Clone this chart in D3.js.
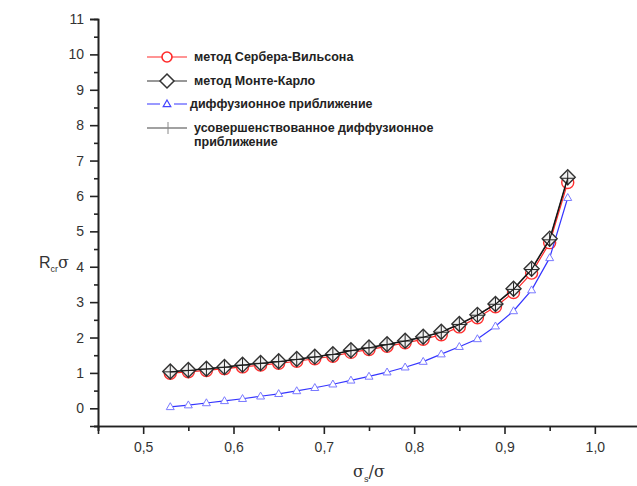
<!DOCTYPE html>
<html lang="ru">
<head>
<meta charset="UTF-8">
<script src="https://d3js.org/d3.v7.min.js"></script>
<style>
  body { margin: 0; background: #fff; }
  svg { display: block; font-family: "Liberation Sans", Arial, sans-serif; }
</style>
</head>
<body>
<div id="chart"></div>
<script>
const W = 637, H = 486;

// x values: sigma_s / sigma
const xs = [0.53, 0.55, 0.57, 0.59, 0.61, 0.63, 0.65, 0.67, 0.69, 0.71, 0.73, 0.75,
            0.77, 0.79, 0.81, 0.83, 0.85, 0.87, 0.89, 0.91, 0.93, 0.95, 0.97];

const serberWilson = [0.99, 1.03, 1.07, 1.12, 1.17, 1.22, 1.27, 1.33, 1.40, 1.47, 1.58, 1.66,
                      1.75, 1.85, 1.95, 2.08, 2.30, 2.56, 2.87, 3.27, 3.82, 4.68, 6.38];
const monteCarlo = [1.04, 1.08, 1.12, 1.17, 1.23, 1.28, 1.33, 1.39, 1.46, 1.53, 1.64, 1.72,
                    1.81, 1.91, 2.02, 2.16, 2.38, 2.64, 2.95, 3.38, 3.94, 4.79, 6.53];
const diffusion = [0.04, 0.09, 0.15, 0.21, 0.27, 0.34, 0.41, 0.49, 0.58, 0.68, 0.79, 0.90,
                   1.02, 1.16, 1.32, 1.53, 1.74, 1.96, 2.32, 2.75, 3.34, 4.25, 5.95];
const improved = [1.03, 1.07, 1.11, 1.16, 1.22, 1.27, 1.32, 1.38, 1.45, 1.52, 1.63, 1.71,
                  1.80, 1.90, 2.01, 2.15, 2.37, 2.63, 2.94, 3.36, 3.92, 4.76, 6.50];

const xMajor = [0.5, 0.6, 0.7, 0.8, 0.9, 1.0];
const xMinor = [0.45, 0.55, 0.65, 0.75, 0.85, 0.95];
const yMajor = [0, 1, 2, 3, 4, 5, 6, 7, 8, 9, 10, 11];
const yMinor = [-0.5, 0.5, 1.5, 2.5, 3.5, 4.5, 5.5, 6.5, 7.5, 8.5, 9.5, 10.5];

const legendLabels = [
  "метод Сербера-Вильсона",
  "метод Монте-Карло",
  "диффузионное приближение",
  ["усовершенствованное диффузионное", "приближение"]
];

const locale = d3.formatLocale({decimal: ",", thousands: " ", grouping: [3], currency: ["", ""]});
const fmt1 = locale.format(".1f");

const x = d3.scaleLinear().domain([0.45, 1.05]).range([98, 640]);
const y = d3.scaleLinear().domain([-0.5, 11]).range([426, 19]);

const svg = d3.select("#chart").append("svg")
  .attr("width", W).attr("height", H);

// axes
function styleAxis(g) {
  g.select(".domain").attr("stroke", "#222").attr("stroke-width", 1.6);
  g.selectAll(".tick line").attr("stroke", "#222").attr("stroke-width", 1.6);
  g.selectAll(".tick text").attr("fill", "#333").style("font-size", "14px");
}

svg.append("g")
  .attr("transform", `translate(0,${y(-0.5)})`)
  .call(d3.axisBottom(x).tickValues(xMinor).tickSize(5).tickFormat(""))
  .call(styleAxis);
svg.append("g")
  .attr("transform", `translate(0,${y(-0.5)})`)
  .call(d3.axisBottom(x).tickValues(xMajor).tickSize(8).tickPadding(8).tickFormat(fmt1))
  .call(styleAxis);

svg.append("g")
  .attr("transform", `translate(${x(0.45)},0)`)
  .call(d3.axisLeft(y).tickValues(yMinor).tickSize(4).tickFormat(""))
  .call(styleAxis);
svg.append("g")
  .attr("transform", `translate(${x(0.45)},0)`)
  .call(d3.axisLeft(y).tickValues(yMajor).tickSize(8).tickPadding(6).tickFormat(d3.format("d")))
  .call(styleAxis);

// axis titles
const xt = svg.append("text").attr("x", 353).attr("y", 477)
  .attr("fill", "#333").style("font-size", "16px").style("font-family", "'DejaVu Serif', serif");
xt.append("tspan").text("σ");
xt.append("tspan").attr("dy", 5).style("font-size", "9px").text("s");
xt.append("tspan").attr("dy", -5).text("/σ");

const yt = svg.append("text").attr("x", 39).attr("y", 268)
  .attr("fill", "#333").style("font-size", "16px");
yt.append("tspan").text("R");
yt.append("tspan").attr("dy", 4).style("font-size", "9px").text("cr");
yt.append("tspan").attr("dy", -4).style("font-family", "'DejaVu Serif', serif").text("σ");

// series
const line = d3.line().x(d => x(d[0])).y(d => y(d[1]));
const pts = vals => xs.map((v, i) => [v, vals[i]]);

const diamond = s => `M0,${-s}L${s},0L0,${s}L${-s},0Z`;
const tri = s => `M0,${-s}L${s * 0.95},${s * 0.65}L${-s * 0.95},${s * 0.65}Z`;

// Serber-Wilson
svg.append("path").datum(pts(serberWilson)).attr("d", line)
  .attr("fill", "none").attr("stroke", "#ff2a2a").attr("stroke-width", 1.2);
svg.append("g").selectAll("circle").data(pts(serberWilson)).join("circle")
  .attr("cx", d => x(d[0])).attr("cy", d => y(d[1])).attr("r", 6)
  .attr("fill", "#fff").attr("stroke", "#ff3030").attr("stroke-width", 1.4);

// diffusion
svg.append("path").datum(pts(diffusion)).attr("d", line)
  .attr("fill", "none").attr("stroke", "#3535ff").attr("stroke-width", 1.2);
svg.append("g").selectAll("path").data(pts(diffusion)).join("path")
  .attr("transform", d => `translate(${x(d[0])},${y(d[1])})`)
  .attr("d", tri(4.2))
  .attr("fill", "#fff").attr("stroke", "#7a7aff").attr("stroke-width", 1);

// Monte Carlo
svg.append("path").datum(pts(monteCarlo)).attr("d", line)
  .attr("fill", "none").attr("stroke", "#333").attr("stroke-width", 1.2);
svg.append("g").selectAll("path").data(pts(monteCarlo)).join("path")
  .attr("transform", d => `translate(${x(d[0])},${y(d[1])})`)
  .attr("d", diamond(7.5))
  .attr("fill", "#f2f2f2").attr("stroke", "#333").attr("stroke-width", 1.4);

// improved diffusion
svg.append("path").datum(pts(improved)).attr("d", line)
  .attr("fill", "none").attr("stroke", "#111").attr("stroke-width", 1.1);
svg.append("g").selectAll("path").data(pts(improved)).join("path")
  .attr("transform", d => `translate(${x(d[0])},${y(d[1])})`)
  .attr("d", "M-7,0H7M0,-7V7")
  .attr("fill", "none").attr("stroke", "#222").attr("stroke-width", 1);

// legend
const lg = svg.append("g");
const lx0 = 147, lx1 = 187, lmx = 167;
const ly = [57, 81, 104, 128];

lg.append("line").attr("x1", lx0).attr("x2", lx1).attr("y1", ly[0]).attr("y2", ly[0])
  .attr("stroke", "#ff2a2a").attr("stroke-width", 1.2);
lg.append("circle").attr("cx", lmx).attr("cy", ly[0]).attr("r", 5)
  .attr("fill", "#fff").attr("stroke", "#ff2a2a").attr("stroke-width", 1.6);

lg.append("line").attr("x1", lx0).attr("x2", lx1).attr("y1", ly[1]).attr("y2", ly[1])
  .attr("stroke", "#333").attr("stroke-width", 1.2);
lg.append("path").attr("transform", `translate(${lmx},${ly[1]})`).attr("d", diamond(7))
  .attr("fill", "#fff").attr("stroke", "#333").attr("stroke-width", 1.5);

lg.append("line").attr("x1", lx0).attr("x2", lx0 + 13).attr("y1", ly[2]).attr("y2", ly[2])
  .attr("stroke", "#5555ff").attr("stroke-width", 1.2);
lg.append("line").attr("x1", lx1 - 13).attr("x2", lx1).attr("y1", ly[2]).attr("y2", ly[2])
  .attr("stroke", "#5555ff").attr("stroke-width", 1.2);
lg.append("path").attr("transform", `translate(${lmx},${ly[2]})`).attr("d", tri(4))
  .attr("fill", "#fff").attr("stroke", "#4444ff").attr("stroke-width", 1.2);

lg.append("line").attr("x1", lx0).attr("x2", lx1).attr("y1", ly[3]).attr("y2", ly[3])
  .attr("stroke", "#444").attr("stroke-width", 1.2);
lg.append("line").attr("x1", lmx + 1).attr("x2", lmx + 1).attr("y1", ly[3] - 6).attr("y2", ly[3] + 6)
  .attr("stroke", "#888").attr("stroke-width", 1);

legendLabels.forEach((lab, i) => {
  const t = lg.append("text").attr("x", i === 2 ? 190 : 194).attr("y", ly[i] + 4)
    .attr("fill", "#222").style("font-size", "12.5px").style("font-weight", "bold");
  if (Array.isArray(lab)) {
    lab.forEach((s, j) => t.append("tspan").attr("x", 194).attr("dy", j ? 14 : 0).text(s));
  } else {
    t.text(lab);
  }
});
</script>
</body>
</html>
